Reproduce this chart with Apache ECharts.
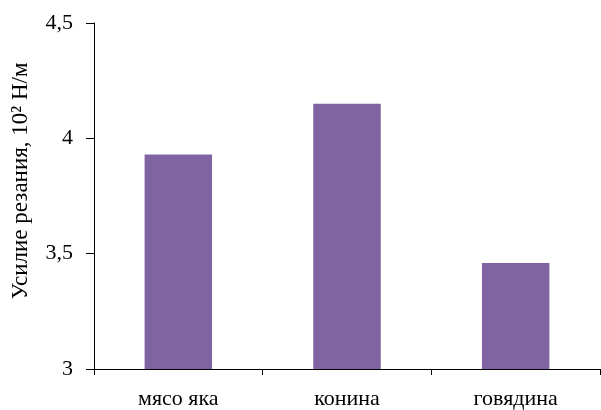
<!DOCTYPE html>
<html><head><meta charset="utf-8">
<script src="https://cdn.jsdelivr.net/npm/echarts@6/dist/echarts.min.js"></script>
<style>html,body{margin:0;padding:0;background:#fff}#c{width:601px;height:410px}</style>
</head><body><div id="c"></div>
<script>
const categories = ['мясо яка', 'конина', 'говядина'];
const values = [3.93, 4.15, 3.46];
const yTicks = [3, 3.5, 4, 4.5];
const yName = 'Усилие резания, 10² Н/м';

const font = '"Liberation Serif", "Times New Roman", serif';
const chart = echarts.init(document.getElementById('c'), null, {renderer: 'canvas'});
chart.setOption({
  animation: false,
  grid: {left: 94, right: 1, top: 23, bottom: 38, containLabel: false},
  xAxis: {
    type: 'category', data: categories,
    axisLine: {lineStyle: {color: '#000', width: 1}},
    axisTick: {show: true, alignWithLabel: false, length: 6, lineStyle: {color: '#000'}},
    axisLabel: {color: '#000', fontFamily: font, fontSize: 22, margin: 19},
    splitLine: {show: false}
  },
  yAxis: {
    type: 'value', min: yTicks[0], max: yTicks[yTicks.length - 1], interval: 0.5,
    name: yName, nameLocation: 'middle', nameGap: 62, nameRotate: 90,
    nameTextStyle: {color: '#000', fontFamily: font, fontSize: 23, padding: [0, 0, 0, 30]},
    axisLine: {show: true, lineStyle: {color: '#000', width: 1}},
    axisTick: {show: true, length: 8, lineStyle: {color: '#000'}},
    axisLabel: {color: '#000', fontFamily: font, fontSize: 22, margin: 21,
      formatter: v => String(v).replace('.', ',')},
    splitLine: {show: false}
  },
  series: [{
    type: 'bar', data: values, barWidth: '40%',
    itemStyle: {color: '#8064A2'}
  }]
});
</script></body></html>
